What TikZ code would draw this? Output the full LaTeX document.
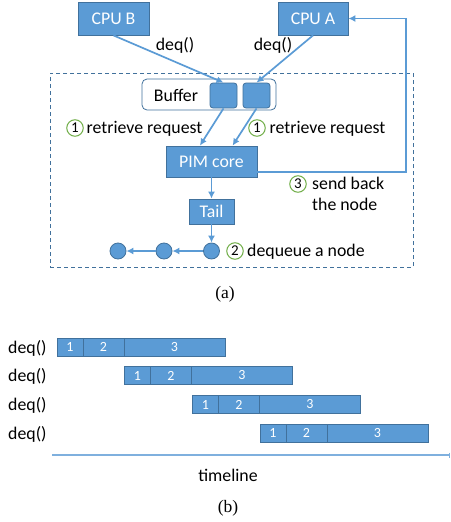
\documentclass[tikz,border=0pt]{standalone}
\usepackage{fontspec}
\setmainfont{Carlito}
\newfontfamily\capfont{Liberation Serif}
\usetikzlibrary{arrows.meta}
\definecolor{boxfill}{HTML}{5B9BD5}
\definecolor{boxline}{HTML}{41719C}
\definecolor{numgreen}{HTML}{70AD47}
\definecolor{tlcol}{HTML}{7FB0DE}
\begin{document}
\begin{tikzpicture}[x=1pt,y=-1pt,
  txt/.style={font=\fontsize{17.8}{20}\selectfont,inner sep=0pt},
  box/.style={draw=boxline,fill=boxfill,text=white,line width=0.8pt,inner sep=0pt,font=\fontsize{17.8}{20}\selectfont},
  slot/.style={draw=boxline,fill=boxfill,line width=0.8pt,rounded corners=3pt,minimum width=27pt,minimum height=25pt,inner sep=0pt},
  dot/.style={circle,draw=boxline,fill=boxfill,line width=0.8pt,minimum size=16pt,inner sep=0pt},
  conn/.style={draw=boxfill,line width=1.7pt,-{Latex[length=7pt,width=7pt]}},
  num/.style={circle,draw=numgreen,line width=1pt,minimum size=16.5pt,inner sep=0pt,font=\fontsize{15}{15}\selectfont},
  seg/.style={draw=boxline,fill=boxfill,text=white,line width=0.6pt,minimum height=18pt,inner sep=0pt,outer sep=0pt,anchor=west,font=\fontsize{14}{14}\selectfont},
  captext/.style={font=\capfont\fontsize{17.5}{20}\selectfont,inner sep=0pt,anchor=base}
]
\useasboundingbox (0,0) rectangle (450,522);
% ---------- (a) ----------
\node[draw=boxline,dashed,dash pattern=on 4pt off 3pt,line width=1pt,minimum width=363pt,minimum height=194pt,inner sep=0pt] (pimbox) at (231.5,170) {};
\node[box,minimum width=71pt,minimum height=33pt] (cpub) at (113.5,18.5) {CPU B};
\node[box,minimum width=70pt,minimum height=33pt] (cpua) at (313,18.5) {CPU A};
\node[draw=boxline,fill=white,line width=0.8pt,rounded corners=5pt,minimum width=134pt,minimum height=31pt,inner sep=0pt] (buffer) at (209,94.5) {};
\node[txt,anchor=base] (buftxt) at (176,101.5) {Buffer};
\node[slot] (slot1) at (223.5,95.5) {};
\node[slot] (slot2) at (256.5,95.5) {};
\node[box,minimum width=91pt,minimum height=31pt] (pim) at (211.5,161.5) {PIM core};
\node[box,minimum width=45pt,minimum height=25pt] (tail) at (211.5,211.5) {Tail};
\node[dot] (c1) at (118,251) {};
\node[dot] (c2) at (164,251) {};
\node[dot] (c3) at (211.5,251) {};
\coordinate (ret) at (406,18.5);

\draw[conn] (cpub.south) -- (slot1.north);
\draw[conn] (cpua.south) -- (slot2.north);
\draw[conn] (slot1.south) -- (pim.126);
\draw[conn] (slot2.south) -- (pim.37);
\draw[conn,line width=1.4pt] (pim.-13) -| (ret) -- (cpua.east);
\draw[conn] (pim.south) -- (tail.north);
\draw[conn] (tail.south) -- (c3.north);
\draw[conn] (c3.west) -- (c2.east);
\draw[conn] (c2.west) -- (c1.east);

\node[txt,anchor=base] (deqb) at (175,50) {deq()};
\node[txt,anchor=base] (deqa) at (273,50) {deq()};
\node[num] (n1l) at (75,128) {1};
\node[txt,anchor=base west] (r1l) at (86.5,133.5) {retrieve request};
\node[num] (n1r) at (257,128) {1};
\node[txt,anchor=base west] (r1r) at (269.5,133.5) {retrieve request};
\node[num] (n3) at (298,184) {3};
\node[txt,anchor=base west] (s3a) at (312,189) {send back};
\node[txt,anchor=base west] (s3b) at (312,210) {the node};
\node[num] (n2) at (235,251) {2};
\node[txt,anchor=base west] (d2) at (247,256.5) {dequeue a node};
\node[captext] (capa) at (225,298) {(a)};
% ---------- (b) ----------
\foreach \i/\x/\y in {0/57/347,1/124.5/375.5,2/192.5/404.5,3/260/433} {
  \node[txt,anchor=base west] (dq\i) at (8,\y+6) {deq()};
  \node[seg,minimum width=26pt] (a\i) at (\x,\y) {1};
  \node[seg,minimum width=41pt] (b\i) at (a\i.east) {2};
  \node[seg,minimum width=101pt] (c\i) at (b\i.east) {3};
}
\coordinate (tl0) at (52,455);
\coordinate (tl1) at (449.4,455);
\draw[tlcol,line width=1.2pt,-{Bar[width=5pt,line width=0.8pt]}] (tl0) -- (tl1);
\node[txt,anchor=base] (tltxt) at (228,481) {timeline};
\node[captext] (capb) at (228,512) {(b)};
\end{tikzpicture}
\end{document}
